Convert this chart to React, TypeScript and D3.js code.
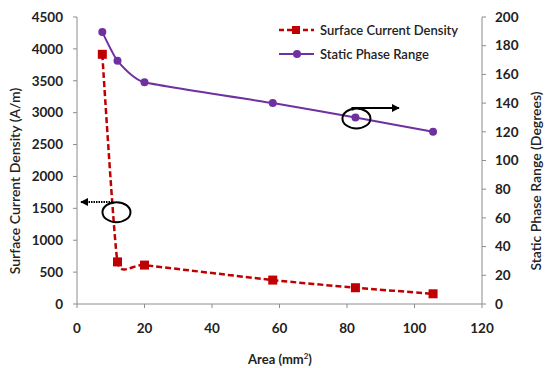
import * as d3 from 'd3';

// Area (mm^2)
const areaValues = [7.5, 12, 20, 58, 82.5, 105.5];
// Surface Current Density (A/m)
const currentDensity = [3915, 660, 610, 375, 255, 160];
// Static Phase Range (Degrees)
const phaseRange = [189.5, 169.5, 154.5, 140, 130, 120];

const xTicks = [0, 20, 40, 60, 80, 100, 120];
const leftTicks = [0, 500, 1000, 1500, 2000, 2500, 3000, 3500, 4000, 4500];
const rightTicks = [0, 20, 40, 60, 80, 100, 120, 140, 160, 180, 200];

const legendLabels = ['Surface Current Density', 'Static Phase Range'];

const W = 546;
const H = 368;
const left = 77, right = 482, top = 17, bottom = 304;

const RED = '#C00000';
const PURPLE = '#7030A0';
const AXIS = '#8c8c8c';
const FONT = 'Lato, "Open Sans", sans-serif';

const xScale = d3.scaleLinear().domain([0, 120]).range([left, right]);
const yLeft = d3.scaleLinear().domain([0, 4500]).range([bottom, top]);
const yRight = d3.scaleLinear().domain([0, 200]).range([bottom, top]);

type Pt = [number, number];

const App = () => {
  const redPts: Pt[] = areaValues.map((a, i) => [xScale(a), yLeft(currentDensity[i])]);
  const purplePts: Pt[] = areaValues.map((a, i) => [xScale(a), yRight(phaseRange[i])]);
  const smooth = d3.line().curve(d3.curveCardinal.tension(0.55));

  // annotation positions follow the data points they point at
  const leftEll: Pt = [xScale(11.7), yLeft(1440)];
  const rightEll: Pt = [purplePts[4][0] + 1, purplePts[4][1] + 1];

  return (
    <svg width={W} height={H} style={{ position: 'absolute', left: 0, top: 0, background: '#fff' }}>
      <defs>
        <marker id="arr" viewBox="0 0 10 10" refX="9" refY="5" markerWidth="4" markerHeight="4" orient="auto">
          <path d="M0,0 L10,5 L0,10 z" fill="#000" />
        </marker>
      </defs>

      {/* axes */}
      <line x1={left} x2={left} y1={top} y2={bottom} stroke={AXIS} />
      <line x1={right} x2={right} y1={top} y2={bottom} stroke={AXIS} />
      <line x1={left} x2={right} y1={bottom} y2={bottom} stroke={AXIS} />

      {leftTicks.map(t => (
        <g key={'l' + t}>
          <line x1={left - 4} x2={left} y1={yLeft(t)} y2={yLeft(t)} stroke={AXIS} />
          <text x={63} y={yLeft(t)} dy="0.35em" textAnchor="end" fontFamily={FONT} fontWeight="bold" fontSize={13.5} fill="#222">{t}</text>
        </g>
      ))}
      {rightTicks.map(t => (
        <g key={'r' + t}>
          <line x1={right} x2={right + 4} y1={yRight(t)} y2={yRight(t)} stroke={AXIS} />
          <text x={495} y={yRight(t)} dy="0.35em" textAnchor="start" fontFamily={FONT} fontWeight="bold" fontSize={13.5} fill="#222">{t}</text>
        </g>
      ))}
      {xTicks.map(t => (
        <g key={'x' + t}>
          <line x1={xScale(t)} x2={xScale(t)} y1={bottom} y2={bottom + 4} stroke={AXIS} />
          <text x={xScale(t)} y={328} dy="0.35em" textAnchor="middle" fontFamily={FONT} fontWeight="bold" fontSize={13.5} fill="#222">{t}</text>
        </g>
      ))}

      {/* axis titles */}
      <text transform="translate(20,181) rotate(-90)" textAnchor="middle" fontFamily={FONT} fontSize={14} fontWeight={600} fill="#222">Surface Current Density (A/m)</text>
      <text transform="translate(541,181) rotate(-90)" textAnchor="middle" fontFamily={FONT} fontSize={14} fontWeight={600} fill="#222">Static Phase Range (Degrees)</text>
      <text x={280} y={364} textAnchor="middle" fontFamily={FONT} fontSize={13} fontWeight="bold" fill="#222">
        Area (mm<tspan dy="-5" fontSize={8}>2</tspan><tspan dy="5">)</tspan>
      </text>

      {/* series */}
      <path d={smooth(purplePts) || ''} fill="none" stroke={PURPLE} strokeWidth={2} />
      {purplePts.map((p, i) => <circle key={'p' + i} cx={p[0]} cy={p[1]} r={4} fill={PURPLE} />)}

      <path d={smooth(redPts) || ''} fill="none" stroke={RED} strokeWidth={2.5} strokeDasharray="6,3" />
      {redPts.map((p, i) => <rect key={'s' + i} x={p[0] - 4.5} y={p[1] - 4.5} width={9} height={9} fill={RED} />)}

      {/* annotations */}
      <ellipse cx={leftEll[0]} cy={leftEll[1]} rx={14} ry={10} fill="none" stroke="#000" strokeWidth={2} />
      <line x1={leftEll[0] - 4} y1={202} x2={81} y2={202} stroke="#000" strokeWidth={2} strokeDasharray="1.5,1" markerEnd="url(#arr)" />

      <ellipse cx={rightEll[0]} cy={rightEll[1]} rx={14} ry={10} fill="none" stroke="#000" strokeWidth={2} />
      <polyline points={`${rightEll[0] - 4},${rightEll[1] - 8} ${rightEll[0] - 4},108 399,108`} fill="none" stroke="#000" strokeWidth={2} markerEnd="url(#arr)" />

      {/* legend */}
      <g fontFamily={FONT} fontSize={13} fontWeight={600} fill="#222">
        <line x1={279} x2={314} y1={30} y2={30} stroke={RED} strokeWidth={2.5} strokeDasharray="5,3" />
        <rect x={292} y={26} width={8} height={8} fill={RED} />
        <text x={320} y={30} dy="0.35em">{legendLabels[0]}</text>
        <line x1={279} x2={314} y1={54} y2={54} stroke={PURPLE} strokeWidth={2} />
        <circle cx={297} cy={54} r={4} fill={PURPLE} />
        <text x={320} y={54} dy="0.35em">{legendLabels[1]}</text>
      </g>
    </svg>
  );
};

export default App;
